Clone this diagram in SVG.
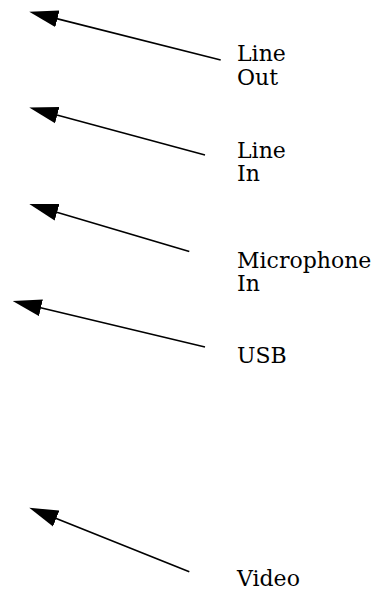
<svg xmlns="http://www.w3.org/2000/svg" width="377" height="592" viewBox="0 0 377 592">
  <style>
    .lbl { font-family: "DejaVu Serif", "Liberation Serif", serif; font-size: 22px; fill: #000; }
    .conn line { stroke: #000; stroke-width: 1.6; fill: none; marker-end: url(#head); }
  </style>
  <defs>
    <!-- filled arrowhead; line end sits 10 units inside the head -->
    <marker id="head" markerUnits="userSpaceOnUse" viewBox="0 -9 29 18" refX="10" refY="0" markerWidth="29" markerHeight="18" orient="auto">
      <path d="M0,-8.5 L29,0 L0,8.5 z" fill="#000"/>
    </marker>
  </defs>
  <rect width="377" height="592" fill="#fff"/>

  <g id="connectors" class="conn">
    <line x1="220.7" y1="60" x2="47.7" y2="16.4"/>
    <line x1="205" y1="155" x2="47.6" y2="112.5"/>
    <line x1="189.3" y1="251.5" x2="47.5" y2="209.4"/>
    <line x1="205" y1="347" x2="31.2" y2="305.5"/>
    <line x1="189.3" y1="571.7" x2="46.9" y2="514.8"/>
  </g>

  <g id="line-out">
    <text class="lbl" x="237" y="61">Line<tspan x="237" dy="23.5">Out</tspan></text>
  </g>
  <g id="line-in">
    <text class="lbl" x="237" y="157.5">Line<tspan x="237" dy="23.5">In</tspan></text>
  </g>
  <g id="microphone-in">
    <text class="lbl" x="237" y="267.5">Microphone<tspan x="237" dy="23.5">In</tspan></text>
  </g>
  <g id="usb">
    <text class="lbl" x="237" y="363">USB</text>
  </g>
  <g id="video">
    <text class="lbl" x="237" y="586">Video</text>
  </g>
</svg>
